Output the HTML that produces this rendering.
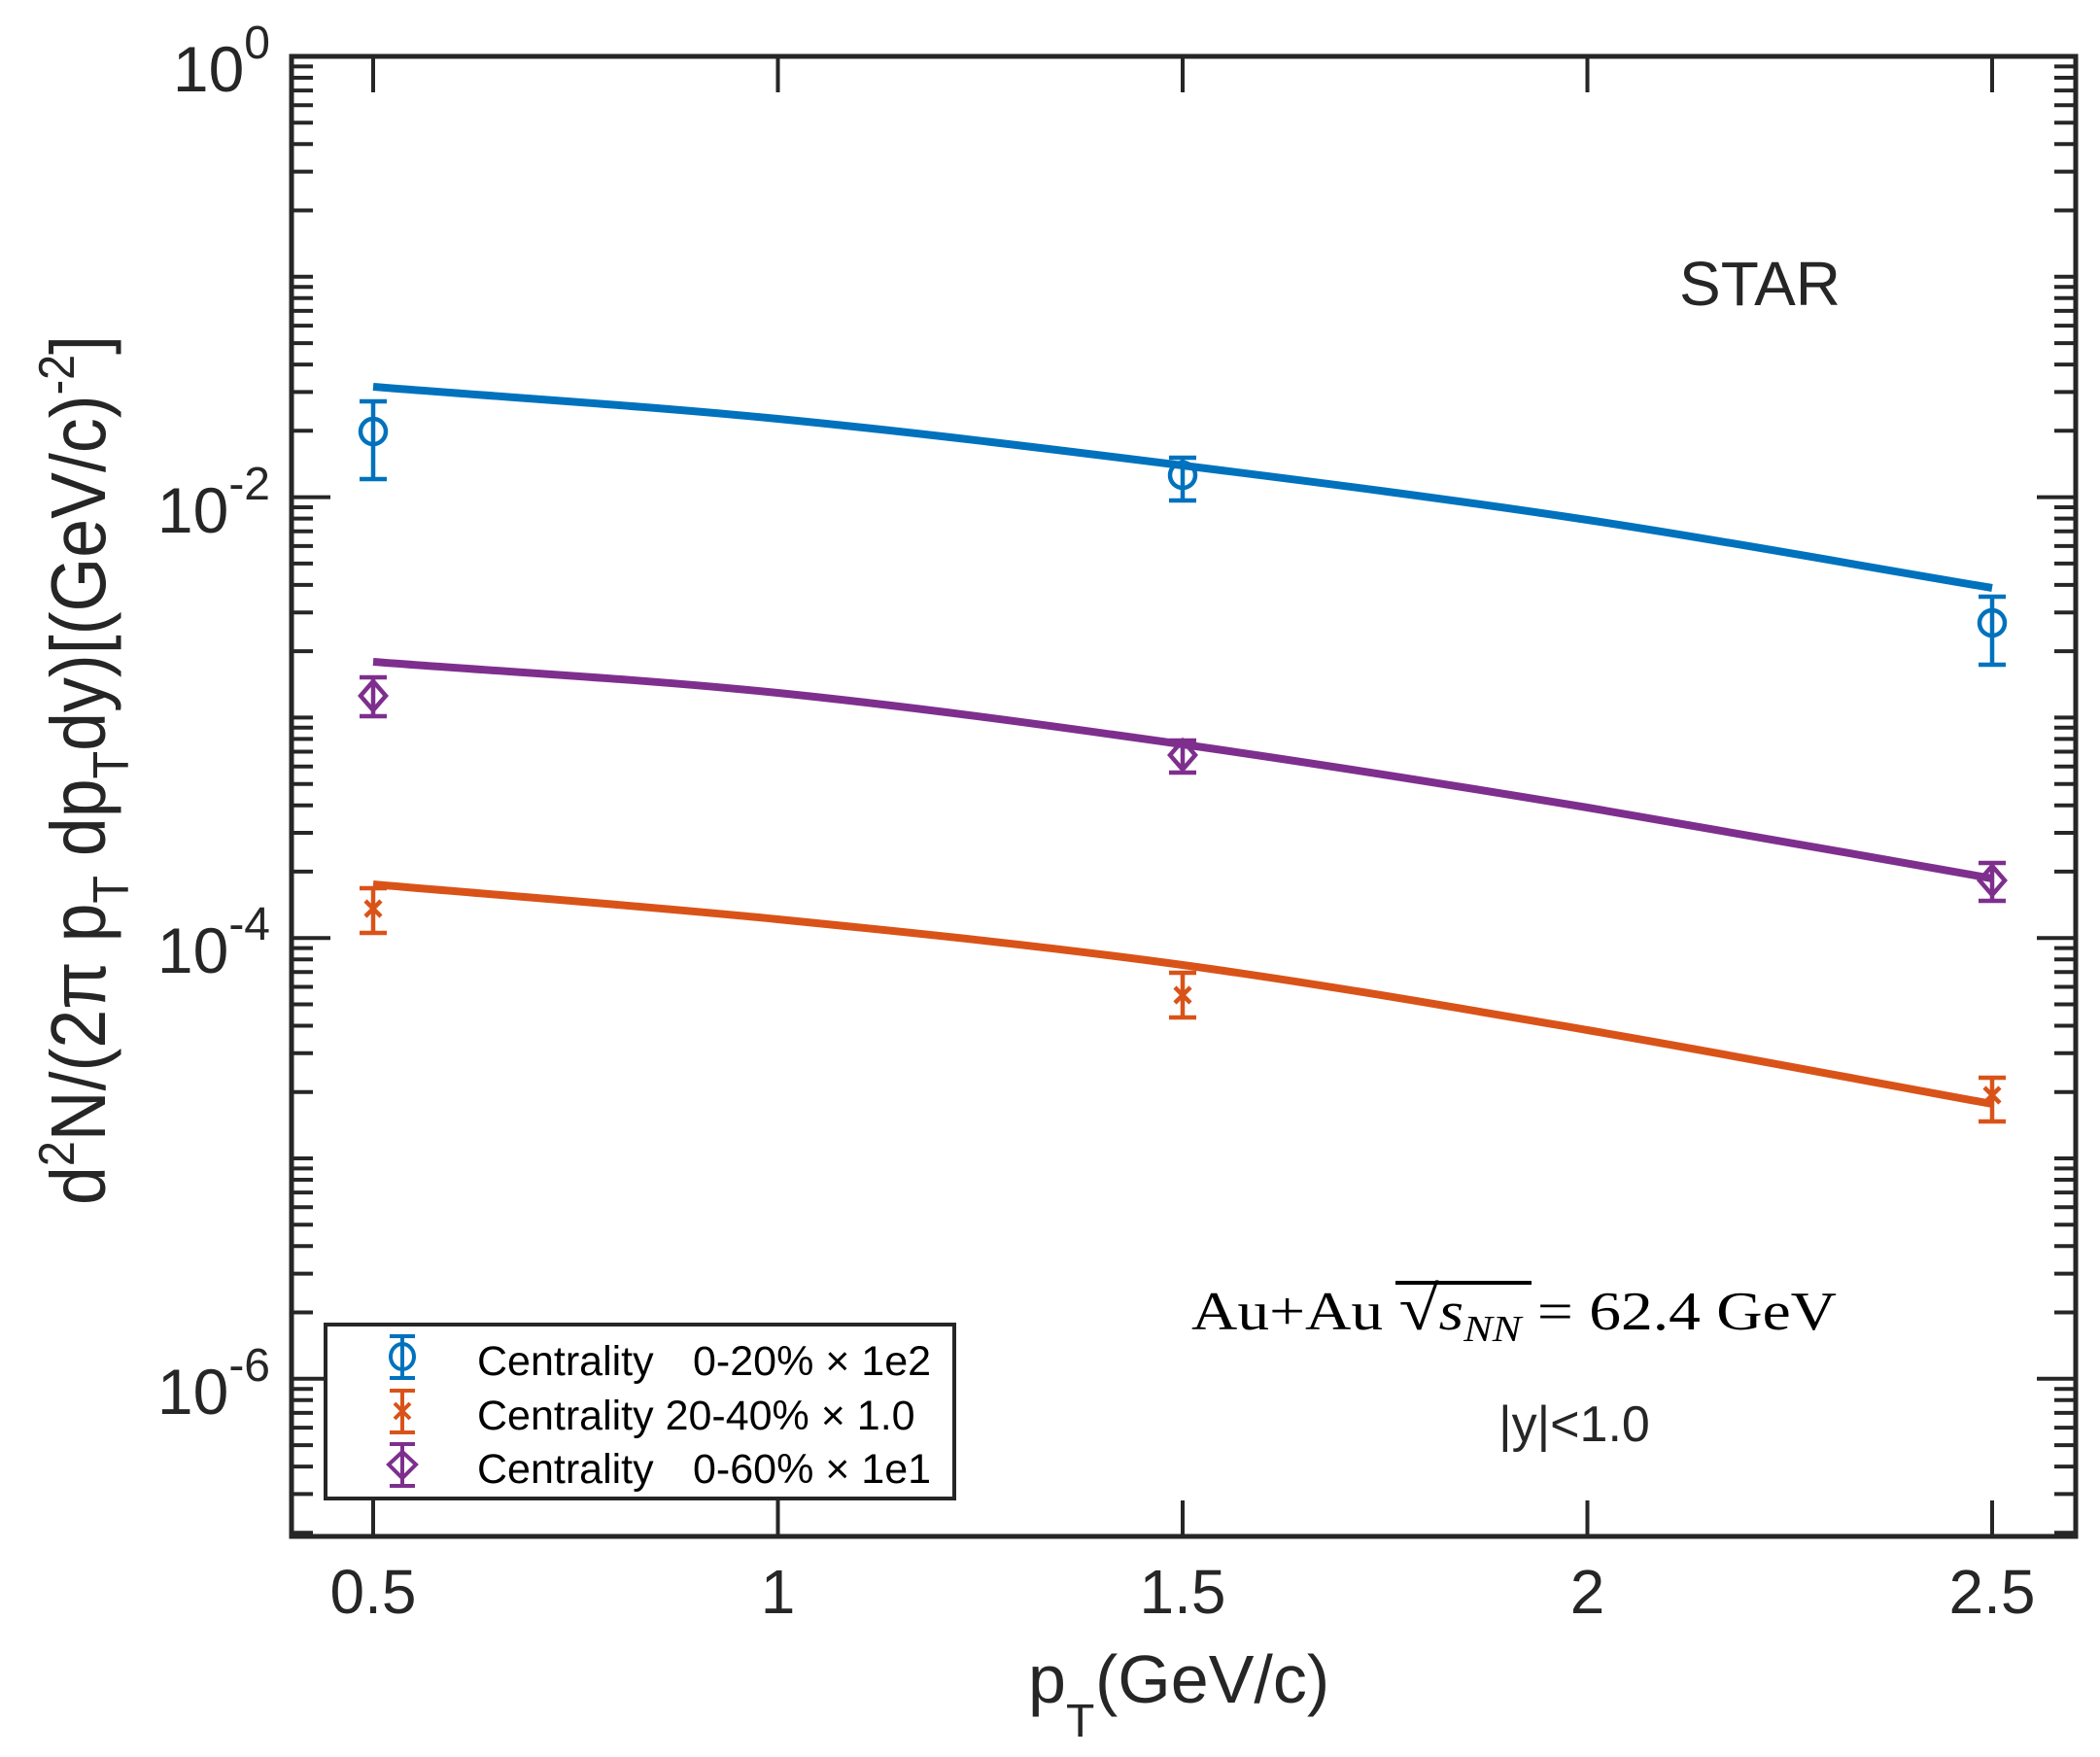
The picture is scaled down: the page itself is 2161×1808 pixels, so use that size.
<!DOCTYPE html>
<html><head><meta charset="utf-8"><style>
html,body{margin:0;padding:0;background:#fff;}
svg{display:block;}
text{font-family:"Liberation Sans",sans-serif;fill:#262626;}
</style></head><body>
<svg id="s" width="2161" height="1808" viewBox="0 0 2161 1808" xmlns="http://www.w3.org/2000/svg">
<rect width="2161" height="1808" fill="#fff"/>
<g id="ticks" stroke="#262626" stroke-width="4"></g>
<rect x="300" y="58" width="1836" height="1523" fill="none" stroke="#262626" stroke-width="5"/>

<g fill="none" stroke-width="8">
<path stroke="#0072BD" d="M384 398 C522.8 409 661.7 417.5 800.5 431 C939.3 444.5 1078.2 461.7 1217 479 C1355.8 496.3 1494.7 514 1633.5 535 C1772.3 556 1911.2 581.7 2050 605"/>
<path stroke="#7E2F8E" d="M384 681 C522.8 691.7 661.7 698.8 800.5 713 C939.3 727.2 1078.2 746.3 1217 766 C1355.8 785.7 1494.7 808 1633.5 831 C1772.3 854 1911.2 879.7 2050 904"/>
<path stroke="#D95319" d="M384 910 C522.8 922 661.7 932.2 800.5 946 C939.3 959.8 1078.2 974 1217 993 C1355.8 1012 1494.7 1036.2 1633.5 1060 C1772.3 1083.8 1911.2 1110.7 2050 1136"/>
</g>

<g fill="none" stroke-width="4.5">
<g stroke="#0072BD">
<path d="M384 413V493M370 413H398M370 493H398"/><circle cx="384" cy="444" r="13"/>
<path d="M1217 471V515M1203 471H1231M1203 515H1231"/><circle cx="1217" cy="489" r="13"/>
<path d="M2050 614V684M2036 614H2064M2036 684H2064"/><circle cx="2050" cy="641" r="13"/>
</g>
<g stroke="#7E2F8E">
<path d="M384 697V737M370 697H398M370 737H398M384 701L397 716L384 731L371 716Z"/>
<path d="M1217 762V795M1203 762H1231M1203 795H1231M1217 762L1230 777L1217 792L1204 777Z"/>
<path d="M2050 888V927M2036 888H2064M2036 927H2064M2050 891L2063 906L2050 921L2037 906Z"/>
</g>
<g stroke="#D95319">
<path d="M384 914V960M370 914H398M370 960H398M376 927L392 943M392 927L376 943"/>
<path d="M1217 1001V1047M1203 1001H1231M1203 1047H1231M1209 1016L1225 1032M1225 1016L1209 1032"/>
<path d="M2050 1109V1154M2036 1109H2064M2036 1154H2064M2042 1119L2058 1135M2058 1119L2042 1135"/>
</g>
</g>

<g font-size="66" text-anchor="end">
<text x="278" y="94">10<tspan font-size="48" dy="-34">0</tspan></text>
<text x="278" y="548">10<tspan font-size="48" dy="-34">-2</tspan></text>
<text x="278" y="1001">10<tspan font-size="48" dy="-34">-4</tspan></text>
<text x="278" y="1455">10<tspan font-size="48" dy="-34">-6</tspan></text>
</g>
<g font-size="64" text-anchor="middle">
<text x="384" y="1660">0.5</text>
<text x="800.5" y="1660">1</text>
<text x="1217" y="1660">1.5</text>
<text x="1633.5" y="1660">2</text>
<text x="2050" y="1660">2.5</text>
</g>
<text x="1058" y="1752" font-size="70">p</text>
<text x="1097" y="1787" font-size="48">T</text>
<text x="1127" y="1752" font-size="70">(GeV/c)</text>
<text transform="translate(108,1240) rotate(-90)" font-size="80" textLength="895" lengthAdjust="spacingAndGlyphs">d<tspan font-size="52" dy="-32">2</tspan><tspan dy="32">N/(2π p</tspan><tspan font-size="52" dy="24">T</tspan><tspan dy="-24"> dp</tspan><tspan font-size="52" dy="24">T</tspan><tspan dy="-24">dy)[(GeV/c)</tspan><tspan font-size="52" dy="-32">-2</tspan><tspan dy="32">]</tspan></text>

<text x="1811" y="314" font-size="64" text-anchor="middle" fill="#000">STAR</text>
<text x="1226" y="1368" font-size="56" style="font-family:'Liberation Serif',serif;fill:#000" textLength="664" lengthAdjust="spacingAndGlyphs">Au+Au <tspan font-size="64">√</tspan><tspan font-style="italic">s</tspan><tspan font-style="italic" font-size="38" dy="12">NN</tspan><tspan dy="-12"> = 62.4 GeV</tspan></text>
<line x1="1436" y1="1320" x2="1576" y2="1320" stroke="#000" stroke-width="4"/>
<text x="1620" y="1483" font-size="52" text-anchor="middle" fill="#000">|y|&lt;1.0</text>

<rect x="335" y="1363" width="647" height="179" fill="#fff" stroke="#262626" stroke-width="4"/>
<g fill="none" stroke-width="4">
<path stroke="#0072BD" d="M414 1375V1418M401 1375H427M401 1418H427"/><ellipse cx="414" cy="1396" rx="12" ry="13" stroke="#0072BD"/>
<path stroke="#D95319" d="M414 1431V1474M401 1431H427M401 1474H427M406 1444L422 1460M422 1444L406 1460"/>
<path stroke="#7E2F8E" d="M414 1486V1529M401 1486H427M401 1529H427M414 1494L428 1507L414 1521L400 1507Z"/>
</g>
<g font-size="43">
<text x="491" y="1415" style="fill:#000">Centrality</text><text x="713" y="1415" style="fill:#000">0-20% × 1e2</text>
<text x="491" y="1471" style="fill:#000">Centrality 20-40% × 1.0</text>
<text x="491" y="1526" style="fill:#000">Centrality</text><text x="713" y="1526" style="fill:#000">0-60% × 1e1</text>
</g>
</svg>
<script>
(function(){
var g=document.getElementById('ticks'),ns='http://www.w3.org/2000/svg',d='';
var top=58,per=226.8,L=300,R=2136,B=1581;
for(var k=0;k>=-7;k--){
 for(var m=1;m<=9;m++){
  var y=top+(-k-Math.log10(m))*per;
  if(y<top-1||y>B+1)continue;
  var len=(m==1&&(k%2==0))?40:22;
  d+='M'+L+' '+y.toFixed(1)+'h'+len+'M'+R+' '+y.toFixed(1)+'h-'+len;
 }
}
[384,800.5,1217,1633.5,2050].forEach(function(x){d+='M'+x+' '+B+'v-37M'+x+' '+top+'v37';});
var p=document.createElementNS(ns,'path');p.setAttribute('d',d);g.appendChild(p);
})();
</script>
</body></html>
